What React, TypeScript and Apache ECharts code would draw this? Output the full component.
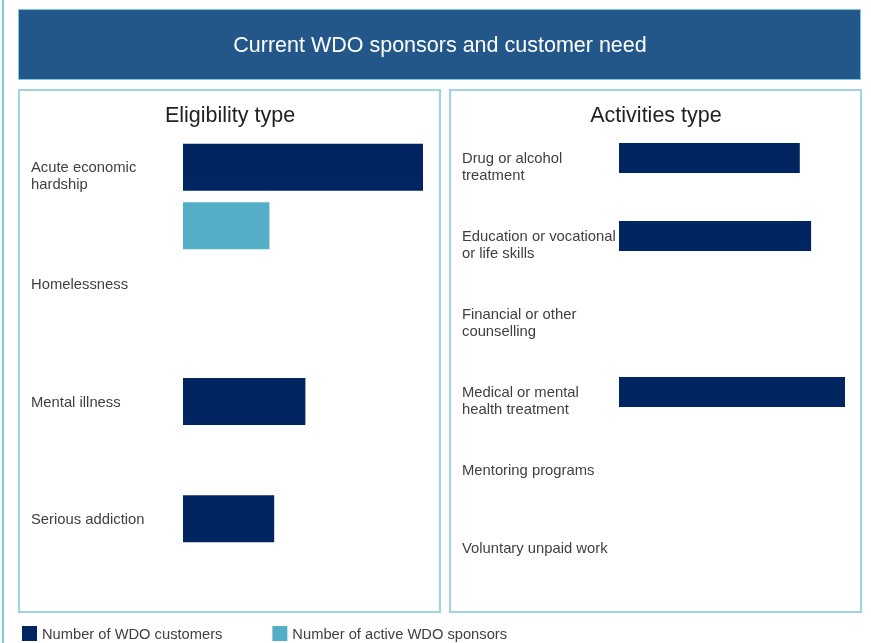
import React, { useEffect, useRef } from "react";
import * as echarts from "echarts";

const eligibilityCats = [
  "Acute economic\nhardship",
  "",
  "Homelessness",
  "",
  "Mental illness",
  "",
  "Serious addiction",
];
const eligibilityCustomers = [100, null, null, null, 51, null, 38];
const eligibilitySponsors = [null, 36, null, null, null, null, null];

const activityCats = [
  "Drug or alcohol\ntreatment",
  "Education or vocational\nor life skills",
  "Financial or other\ncounselling",
  "Medical or mental\nhealth treatment",
  "Mentoring programs",
  "Voluntary unpaid work",
];
const activityCustomers = [80, 85, null, 100, null, null];

const SERIES_CUSTOMERS = "Number of WDO customers";
const SERIES_SPONSORS = "Number of active WDO sponsors";

const DARK = "#002560";
const LIGHT = "#53aec6";
const BORDER = "#9fd5e2";
const FONT = "'Liberation Sans', Arial, sans-serif";
const LABEL_SIZE = 14.8;

// two-line labels sit with their first line on the category centre
const labelFormatter = (v: string) => (v.includes("\n") ? "\n" + v : v);

export default function App() {
  const ref = useRef<HTMLDivElement>(null);
  useEffect(() => {
    if (!ref.current) return;
    const chart = echarts.init(ref.current, undefined, { renderer: "svg" });
    const labelStyle = {
      color: "#404040",
      fontSize: LABEL_SIZE,
      fontFamily: FONT,
      lineHeight: 17,
      align: "left" as const,
      formatter: labelFormatter,
      interval: 0,
    };
    chart.setOption({
      animation: false,
      textStyle: { fontFamily: FONT },
      graphic: [
        {
          type: "line",
          shape: { x1: 3, y1: 0, x2: 3, y2: 643 },
          style: { stroke: "#7ccbdc", lineWidth: 2 },
          z: -10,
        },
        {
          type: "rect",
          shape: { x: 18.5, y: 9.5, width: 842, height: 70 },
          style: { fill: "#23578a", stroke: "#7ccbdc", lineWidth: 1 },
          z: -10,
        },
        {
          type: "text",
          x: 440,
          y: 45,
          style: {
            text: "Current WDO sponsors and customer need",
            fill: "#ffffff",
            fontSize: 21.5,
            fontFamily: FONT,
            align: "center",
            verticalAlign: "middle",
          },
        },
        {
          type: "rect",
          shape: { x: 19, y: 90, width: 421, height: 522 },
          style: { fill: "none", stroke: BORDER, lineWidth: 2 },
          z: -10,
        },
        {
          type: "rect",
          shape: { x: 450, y: 90, width: 411, height: 522 },
          style: { fill: "none", stroke: BORDER, lineWidth: 2 },
          z: -10,
        },
        {
          type: "text",
          x: 230,
          y: 115,
          style: {
            text: "Eligibility type",
            fill: "#222222",
            fontSize: 21.5,
            fontFamily: FONT,
            align: "center",
            verticalAlign: "middle",
          },
        },
        {
          type: "text",
          x: 656,
          y: 115,
          style: {
            text: "Activities type",
            fill: "#222222",
            fontSize: 21.5,
            fontFamily: FONT,
            align: "center",
            verticalAlign: "middle",
          },
        },
      ],
      legend: {
        data: [SERIES_CUSTOMERS, SERIES_SPONSORS],
        left: 22,
        top: 626,
        padding: 0,
        itemWidth: 15,
        itemHeight: 15,
        itemGap: 50,
        icon: "rect",
        selectedMode: false,
        textStyle: { color: "#404040", fontSize: 14.7, fontFamily: FONT },
      },
      grid: [
        {
          left: 183,
          top: 138,
          width: 240,
          height: 410,
          containLabel: false,
          outerBoundsMode: "none",
        },
        {
          left: 619,
          top: 119,
          width: 226,
          height: 468,
          containLabel: false,
          outerBoundsMode: "none",
        },
      ],
      xAxis: [
        { type: "value", gridIndex: 0, min: 0, max: 100, show: false },
        { type: "value", gridIndex: 1, min: 0, max: 100, show: false },
      ],
      yAxis: [
        {
          type: "category",
          gridIndex: 0,
          inverse: true,
          data: eligibilityCats,
          axisLine: { show: false },
          axisTick: { show: false },
          splitLine: { show: false },
          axisLabel: { ...labelStyle, margin: 152 },
        },
        {
          type: "category",
          gridIndex: 1,
          inverse: true,
          data: activityCats,
          axisLine: { show: false },
          axisTick: { show: false },
          splitLine: { show: false },
          axisLabel: { ...labelStyle, margin: 157 },
        },
      ],
      series: [
        {
          name: SERIES_CUSTOMERS,
          type: "bar",
          xAxisIndex: 0,
          yAxisIndex: 0,
          data: eligibilityCustomers,
          barWidth: 47,
          barGap: "-100%",
          itemStyle: { color: DARK },
        },
        {
          name: SERIES_SPONSORS,
          type: "bar",
          xAxisIndex: 0,
          yAxisIndex: 0,
          data: eligibilitySponsors,
          barWidth: 47,
          barGap: "-100%",
          itemStyle: { color: LIGHT },
        },
        {
          name: SERIES_CUSTOMERS,
          type: "bar",
          xAxisIndex: 1,
          yAxisIndex: 1,
          data: activityCustomers,
          barWidth: 30,
          itemStyle: { color: DARK },
        },
      ],
    });
    return () => chart.dispose();
  }, []);
  return (
    <div
      ref={ref}
      style={{ position: "fixed", left: 0, top: 0, width: 871, height: 643 }}
    />
  );
}
